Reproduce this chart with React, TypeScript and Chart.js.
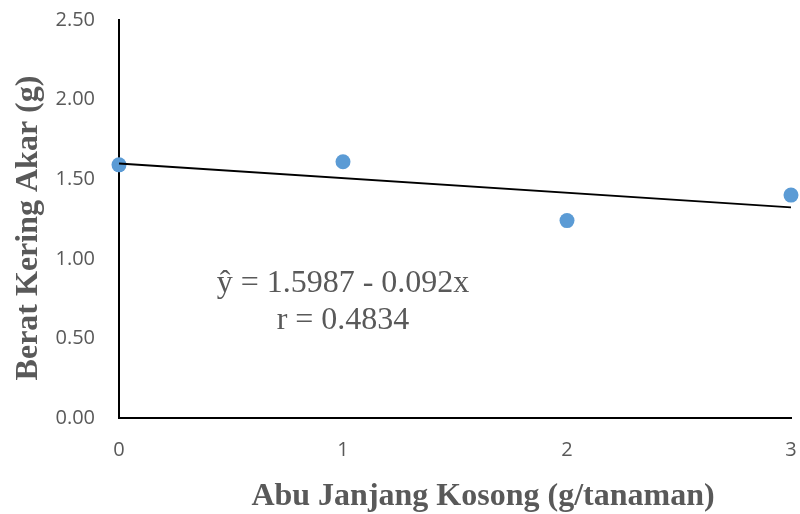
import React, { useEffect, useRef } from "react";
import { Chart, registerables } from "chart.js";

Chart.register(...registerables);

const xValues = [0, 1, 2, 3];
const yValues = [1.59, 1.61, 1.24, 1.4];
const trendX = [0, 3];
const trendY = [1.5987, 1.3227];
const equationLines = ["ŷ = 1.5987 - 0.092x", "r = 0.4834"];
const xTitle = "Abu Janjang Kosong (g/tanaman)";
const yTitle = "Berat Kering Akar (g)";

const GRAY = "#595959";

const textPlugin = {
  id: "customText",
  afterDraw(chart: any) {
    const { ctx, chartArea, scales } = chart;
    ctx.save();
    ctx.fillStyle = GRAY;
    // annotation
    ctx.font = '32px "Liberation Serif"';
    ctx.textAlign = "center";
    ctx.textBaseline = "alphabetic";
    const cx = scales.x.getPixelForValue(1);
    ctx.fillText(equationLines[0], cx, chartArea.bottom - 126);
    ctx.fillText(equationLines[1], cx, chartArea.bottom - 89);
    // x title
    ctx.font = 'bold 32px "Liberation Serif"';
    ctx.fillText(xTitle, (chartArea.left + chartArea.right) / 2 + 28, chart.height - 9);
    // y title
    ctx.translate(37, (chartArea.top + chartArea.bottom) / 2 + 9);
    ctx.rotate(-Math.PI / 2);
    ctx.fillText(yTitle, 0, 0);
    ctx.restore();
  },
};

export default function App() {
  const ref = useRef<HTMLCanvasElement>(null);
  useEffect(() => {
    if (!ref.current) return;
    const chart = new Chart(ref.current, {
      type: "scatter",
      data: {
        datasets: [
          {
            type: "line",
            data: trendX.map((x, i) => ({ x, y: trendY[i] })),
            borderColor: "#000000",
            borderWidth: 1.8,
            pointRadius: 0,
            fill: false,
            clip: false as any,
          },
          {
            data: xValues.map((x, i) => ({ x, y: yValues[i] })),
            backgroundColor: "#5B9BD5",
            borderColor: "#5B9BD5",
            pointRadius: 7.5,
            pointHoverRadius: 7.5,
            borderWidth: 0,
            clip: false as any,
          },
        ],
      },
      options: {
        responsive: false,
        animation: false,
        layout: { padding: { top: 20, right: 9, left: 0, bottom: 0 } },
        plugins: {
          legend: { display: false },
          tooltip: { enabled: false },
        },
        scales: {
          x: {
            type: "linear",
            min: 0,
            max: 3,
            afterFit: (s: any) => {
              s.height = 96;
              s.paddingLeft = 0;
              s.paddingRight = 0;
            },
            grid: { display: false, drawTicks: false },
            border: { display: true, color: "#000000", width: 2 },
            ticks: {
              stepSize: 1,
              padding: 20,
              color: GRAY,
              font: { family: '"Open Sans"', size: 20 },
            },
          },
          y: {
            type: "linear",
            min: 0,
            max: 2.5,
            afterFit: (s: any) => {
              s.width = 119;
              s.paddingTop = 0;
              s.paddingBottom = 0;
            },
            grid: { display: false, drawTicks: false },
            border: { display: true, color: "#000000", width: 2 },
            ticks: {
              stepSize: 0.5,
              padding: 24,
              color: GRAY,
              font: { family: '"Open Sans"', size: 20 },
              callback: (v: any) => Number(v).toFixed(2),
            },
          },
        },
      },
      plugins: [textPlugin],
    });
    return () => chart.destroy();
  }, []);
  return (
    <div style={{ position: "fixed", left: 0, top: 0, width: 800, height: 514, background: "#fff" }}>
      <canvas ref={ref} width={800} height={514} />
    </div>
  );
}
